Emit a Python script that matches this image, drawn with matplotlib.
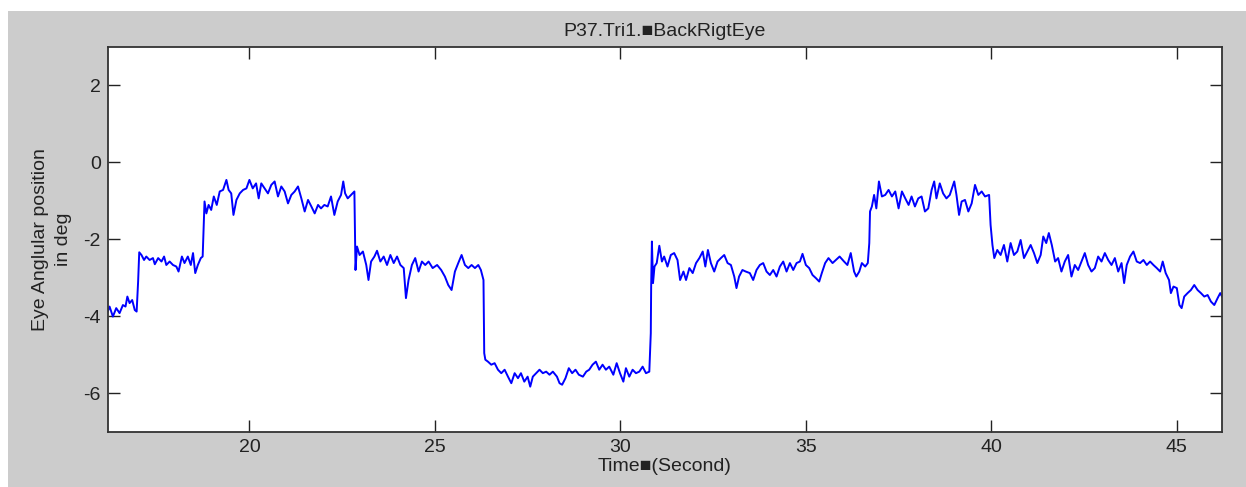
import matplotlib
matplotlib.use("Agg")
import matplotlib.pyplot as plt
from matplotlib.patches import Rectangle

plt.rcParams['font.family'] = ['Liberation Sans', 'DejaVu Sans']
plt.rcParams['axes.unicode_minus'] = False

# eye trace (seconds, degrees)
time_s = [
    16.18, 16.23, 16.32, 16.41, 16.50, 16.59, 16.66, 16.71, 16.77, 16.84,
    16.91, 16.96, 17.00, 17.03, 17.09, 17.16, 17.22, 17.31, 17.40, 17.45,
    17.54, 17.63, 17.70, 17.76, 17.85, 17.94, 18.03, 18.09, 18.18, 18.25,
    18.34, 18.42, 18.48, 18.54, 18.61, 18.69, 18.74, 18.77, 18.79, 18.84,
    18.90, 18.97, 19.04, 19.12, 19.20, 19.29, 19.38, 19.44, 19.51, 19.57,
    19.65, 19.74, 19.83, 19.92, 20.00, 20.09, 20.18, 20.25, 20.32, 20.41,
    20.50, 20.59, 20.68, 20.77, 20.86, 20.95, 21.04, 21.13, 21.22, 21.31,
    21.40, 21.49, 21.58, 21.67, 21.76, 21.85, 21.93, 22.02, 22.11, 22.20,
    22.29, 22.38, 22.47, 22.53, 22.58, 22.65, 22.74, 22.83, 22.86, 22.90,
    22.97, 23.06, 23.15, 23.21, 23.28, 23.37, 23.44, 23.53, 23.62, 23.71,
    23.80, 23.89, 23.98, 24.07, 24.16, 24.22, 24.29, 24.38, 24.47, 24.56,
    24.65, 24.74, 24.83, 24.94, 25.06, 25.17, 25.27, 25.36, 25.45, 25.54,
    25.63, 25.72, 25.81, 25.90, 25.99, 26.08, 26.17, 26.24, 26.31, 26.33,
    26.36, 26.43, 26.52, 26.61, 26.70, 26.79, 26.88, 26.97, 27.06, 27.15,
    27.24, 27.32, 27.41, 27.50, 27.57, 27.64, 27.73, 27.82, 27.91, 28.00,
    28.09, 28.18, 28.29, 28.36, 28.43, 28.52, 28.61, 28.70, 28.79, 28.88,
    28.99, 29.08, 29.16, 29.25, 29.34, 29.43, 29.52, 29.61, 29.70, 29.81,
    29.90, 29.99, 30.08, 30.15, 30.24, 30.33, 30.42, 30.51, 30.60, 30.69,
    30.78, 30.82, 30.83, 30.85, 30.88, 30.92, 30.98, 31.05, 31.12, 31.18,
    31.27, 31.36, 31.45, 31.54, 31.61, 31.70, 31.77, 31.86, 31.95, 32.04,
    32.13, 32.22, 32.29, 32.36, 32.44, 32.53, 32.62, 32.71, 32.80, 32.89,
    32.98, 33.07, 33.13, 33.20, 33.29, 33.38, 33.49, 33.58, 33.67, 33.76,
    33.85, 33.94, 34.03, 34.12, 34.21, 34.30, 34.39, 34.48, 34.57, 34.66,
    34.75, 34.84, 34.91, 35.00, 35.09, 35.18, 35.27, 35.36, 35.43, 35.52,
    35.61, 35.72, 35.81, 35.91, 36.03, 36.12, 36.21, 36.30, 36.36, 36.44,
    36.51, 36.60, 36.67, 36.71, 36.73, 36.78, 36.84, 36.90, 36.97, 37.05,
    37.14, 37.23, 37.32, 37.41, 37.50, 37.59, 37.68, 37.77, 37.85, 37.94,
    38.03, 38.12, 38.21, 38.30, 38.39, 38.46, 38.52, 38.61, 38.70, 38.79,
    38.88, 39.00, 39.06, 39.13, 39.20, 39.29, 39.38, 39.47, 39.56, 39.65,
    39.74, 39.83, 39.94, 39.98, 40.03, 40.08, 40.16, 40.25, 40.34, 40.43,
    40.52, 40.61, 40.70, 40.79, 40.88, 40.97, 41.06, 41.15, 41.24, 41.33,
    41.40, 41.48, 41.55, 41.63, 41.72, 41.80, 41.89, 41.98, 42.07, 42.16,
    42.25, 42.34, 42.43, 42.52, 42.61, 42.70, 42.79, 42.88, 42.97, 43.06,
    43.15, 43.24, 43.33, 43.42, 43.51, 43.58, 43.65, 43.74, 43.83, 43.92,
    44.01, 44.10, 44.19, 44.28, 44.37, 44.46, 44.55, 44.62, 44.70, 44.79,
    44.84, 44.91, 45.00, 45.07, 45.13, 45.20, 45.29, 45.38, 45.47, 45.56,
    45.65, 45.74, 45.83, 45.92, 46.01, 46.10, 46.17, 46.22,
]
eye_deg = [
    -3.88, -3.75, -4.01, -3.79, -3.92, -3.71, -3.75, -3.49, -3.66, -3.58,
    -3.84, -3.88, -3.10, -2.34, -2.41, -2.54, -2.45, -2.54, -2.49, -2.65,
    -2.49, -2.58, -2.45, -2.67, -2.58, -2.67, -2.71, -2.84, -2.45, -2.62,
    -2.45, -2.67, -2.36, -2.88, -2.67, -2.49, -2.45, -1.59, -1.02, -1.33,
    -1.11, -1.24, -0.89, -1.11, -0.76, -0.72, -0.46, -0.72, -0.81, -1.37,
    -0.98, -0.81, -0.72, -0.68, -0.46, -0.68, -0.55, -0.94, -0.55, -0.68,
    -0.81, -0.59, -0.50, -0.89, -0.63, -0.76, -1.07, -0.85, -0.76, -0.63,
    -0.94, -1.28, -0.98, -1.15, -1.33, -1.11, -1.20, -1.11, -1.15, -0.89,
    -1.37, -1.02, -0.85, -0.50, -0.81, -0.94, -0.85, -0.76, -2.80, -2.19,
    -2.41, -2.32, -2.67, -3.06, -2.58, -2.45, -2.30, -2.58, -2.45, -2.67,
    -2.41, -2.62, -2.45, -2.67, -2.75, -3.53, -3.06, -2.67, -2.49, -2.84,
    -2.58, -2.67, -2.58, -2.75, -2.67, -2.80, -2.97, -3.19, -3.32, -2.84,
    -2.62, -2.41, -2.67, -2.75, -2.67, -2.75, -2.67, -2.80, -3.06, -4.96,
    -5.13, -5.18, -5.26, -5.22, -5.39, -5.48, -5.39, -5.57, -5.74, -5.48,
    -5.61, -5.48, -5.70, -5.57, -5.83, -5.57, -5.48, -5.39, -5.48, -5.44,
    -5.52, -5.44, -5.57, -5.74, -5.78, -5.61, -5.35, -5.48, -5.39, -5.52,
    -5.57, -5.44, -5.39, -5.26, -5.18, -5.39, -5.26, -5.39, -5.31, -5.52,
    -5.22, -5.48, -5.70, -5.35, -5.57, -5.39, -5.48, -5.44, -5.31, -5.48,
    -5.44, -4.44, -3.23, -2.06, -3.14, -2.71, -2.62, -2.17, -2.58, -2.45,
    -2.71, -2.41, -2.36, -2.54, -3.06, -2.84, -3.06, -2.75, -2.88, -2.62,
    -2.49, -2.32, -2.71, -2.28, -2.62, -2.84, -2.58, -2.49, -2.41, -2.62,
    -2.67, -2.97, -3.27, -2.97, -2.80, -2.84, -2.88, -3.06, -2.80, -2.67,
    -2.62, -2.84, -2.93, -2.80, -2.97, -2.71, -2.58, -2.84, -2.62, -2.80,
    -2.62, -2.58, -2.38, -2.67, -2.75, -2.93, -3.01, -3.10, -2.88, -2.62,
    -2.49, -2.62, -2.54, -2.45, -2.58, -2.67, -2.36, -2.84, -2.97, -2.84,
    -2.62, -2.71, -2.62, -2.10, -1.28, -1.15, -0.85, -1.20, -0.50, -0.89,
    -0.85, -0.72, -0.89, -0.76, -1.20, -0.76, -0.94, -1.11, -0.89, -1.15,
    -0.94, -0.89, -1.28, -1.20, -0.72, -0.50, -0.94, -0.55, -0.81, -0.94,
    -0.85, -0.50, -0.85, -1.37, -1.02, -0.98, -1.28, -1.07, -0.59, -0.85,
    -0.76, -0.89, -0.85, -1.63, -2.15, -2.49, -2.28, -2.41, -2.15, -2.58,
    -2.10, -2.41, -2.32, -2.02, -2.49, -2.32, -2.15, -2.36, -2.62, -2.41,
    -1.93, -2.10, -1.84, -2.15, -2.58, -2.49, -2.84, -2.58, -2.41, -2.97,
    -2.67, -2.80, -2.58, -2.36, -2.67, -2.84, -2.75, -2.45, -2.58, -2.36,
    -2.54, -2.67, -2.49, -2.84, -2.62, -3.14, -2.67, -2.45, -2.32, -2.58,
    -2.62, -2.54, -2.67, -2.58, -2.67, -2.75, -2.84, -2.58, -2.88, -3.06,
    -3.40, -3.23, -3.27, -3.71, -3.79, -3.49, -3.40, -3.32, -3.19, -3.32,
    -3.40, -3.49, -3.45, -3.62, -3.71, -3.53, -3.40, -3.49,
]
x_ticks = [20, 25, 30, 35, 40, 45]
y_ticks = [-6, -4, -2, 0, 2]

W, H = 1246, 487
fig = plt.figure(figsize=(W / 100, H / 100), dpi=100, facecolor='white')

# gray matlab window background
fig.patches.append(Rectangle((8 / W, 0), 1, (H - 11) / H, transform=fig.transFigure,
                             facecolor='#cccccc', edgecolor='none', zorder=-10))

ax = fig.add_axes([107.7 / W, (H - 431.7) / H, (1221.7 - 107.7) / W, (431.7 - 46.7) / H])
ax.set_facecolor('white')
ax.plot(time_s, eye_deg, color='#0000ff', lw=1.4)

ax.set_xlim(16.18, 46.21)
ax.set_ylim(-7, 3)
ax.set_xticks(x_ticks)
ax.set_yticks(y_ticks)
ax.tick_params(direction='in', length=8.5, width=1.0, top=True, right=True,
               labelsize=14, pad=5, colors='#222222')
for s in ax.spines.values():
    s.set_linewidth(1.3)
    s.set_color('#333333')

ax.set_title('P37.Tri1.\u25a0BackRigtEye', fontsize=14, pad=8, color='#222222')
ax.set_xlabel('Time\u25a0(Second)', fontsize=14, labelpad=2, color='#222222')
ax.set_ylabel('Eye Anglular position\nin deg', fontsize=14, labelpad=8,
              color='#222222', linespacing=1.45)

fig.savefig('out.png', dpi=100, facecolor=fig.get_facecolor())
